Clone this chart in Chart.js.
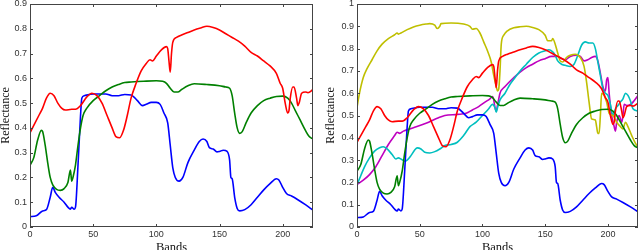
<!DOCTYPE html>
<html>
<head>
<meta charset="utf-8">
<script src="https://cdn.jsdelivr.net/npm/chart.js@4.4.1/dist/chart.umd.min.js"></script>
<style>
  html, body { margin: 0; padding: 0; background: #fff; overflow: hidden; }
  .panel { position: absolute; top: 0; width: 320px; height: 256px; }
</style>
</head>
<body>
<div class="panel" style="left:0"><canvas id="leftChart"></canvas></div>
<div class="panel" style="left:320px"><canvas id="rightChart"></canvas></div>
<script>
// spectra as [band, reflectance] pairs
const blueSpectrum = [[0,0.042],[5,0.045],[10,0.065],[13,0.07],[16,0.12],[18,0.16],[20,0.14],[23,0.12],[27,0.10],[30,0.08],
  [32,0.072],[33,0.08],[35,0.072],[36,0.08],[38,0.25],[40,0.45],[41,0.52],[43,0.53],[50,0.537],[60,0.537],
  [65,0.53],[70,0.53],[75,0.535],[80,0.533],[85,0.51],[89,0.49],[92,0.495],[96,0.503],[100,0.503],[103,0.495],
  [106,0.46],[109,0.42],[111,0.33],[113,0.24],[115,0.2],[118,0.185],[121,0.2],[125,0.26],[130,0.31],[134,0.345],
  [137,0.355],[140,0.345],[142,0.32],[145,0.315],[148,0.303],[150,0.305],[153,0.31],[156,0.305],[158,0.27],[159,0.2],
  [160,0.195],[162,0.12],[164,0.075],[166,0.065],[170,0.07],[175,0.09],[180,0.12],[185,0.15],[190,0.175],[195,0.195],
  [197,0.19],[200,0.16],[203,0.135],[207,0.125],[212,0.11],[218,0.09],[224,0.068]];

const redSpectrum = [[0,0.38],[3,0.41],[7,0.45],[10,0.48],[13,0.52],[16,0.54],[19,0.53],[22,0.5],[25,0.48],[28,0.472],
  [33,0.475],[36,0.475],[40,0.49],[45,0.525],[49,0.54],[53,0.53],[57,0.5],[61,0.45],[65,0.4],[68,0.365],
  [71,0.36],[74,0.39],[77,0.45],[80,0.52],[84,0.58],[88,0.63],[92,0.66],[95,0.675],[97,0.67],[100,0.69],
  [104,0.715],[108,0.728],[109,0.72],[110,0.67],[111,0.625],[112,0.7],[113,0.745],[116,0.765],[120,0.775],[125,0.785],
  [130,0.795],[135,0.803],[140,0.81],[145,0.805],[150,0.795],[155,0.78],[160,0.765],[165,0.75],[170,0.73],[175,0.705],
  [180,0.69],[185,0.67],[190,0.65],[195,0.62],[198,0.58],[200,0.56],[202,0.5],[204,0.46],[205,0.47],[206,0.52],
  [208,0.565],[209,0.565],[211,0.52],[212,0.49],[213,0.5],[215,0.54],[218,0.545],[220,0.542],[224,0.555]];

const greenSpectrum = [[0,0.25],[3,0.28],[6,0.35],[9,0.39],[10,0.385],[12,0.33],[14,0.26],[16,0.2],[18,0.17],[21,0.152],
  [24,0.148],[27,0.155],[30,0.18],[32,0.23],[33,0.185],[34,0.2],[36,0.25],[38,0.33],[40,0.4],[42,0.45],
  [45,0.48],[50,0.51],[55,0.53],[60,0.55],[65,0.565],[70,0.575],[75,0.583],[80,0.585],[90,0.588],[100,0.59],
  [105,0.588],[108,0.58],[111,0.56],[114,0.545],[117,0.545],[120,0.555],[125,0.57],[130,0.578],[140,0.575],[150,0.57],
  [155,0.565],[158,0.56],[160,0.53],[162,0.46],[164,0.4],[166,0.378],[168,0.385],[171,0.42],[175,0.46],[180,0.49],
  [185,0.51],[190,0.52],[195,0.527],[200,0.528],[204,0.52],[207,0.5],[210,0.47],[214,0.43],[218,0.39],[221,0.365],[224,0.355]];

const yellowSpectrum = [[0,0.535],[2,0.6],[5,0.67],[8,0.71],[12,0.75],[16,0.79],[20,0.82],[25,0.845],[30,0.862],[32,0.87],
  [33,0.865],[35,0.87],[40,0.885],[45,0.897],[50,0.905],[55,0.91],[58,0.912],[62,0.905],[64,0.89],[66,0.9],
  [67,0.912],[75,0.915],[85,0.91],[90,0.9],[92,0.887],[95,0.89],[98,0.87],[101,0.83],[104,0.79],[107,0.74],
  [109,0.68],[111,0.63],[112,0.61],[113,0.62],[114,0.7],[115,0.82],[117,0.86],[120,0.88],[125,0.893],[130,0.898],
  [135,0.9],[140,0.895],[145,0.885],[150,0.86],[152,0.835],[155,0.835],[156,0.845],[158,0.82],[160,0.78],[162,0.745],
  [164,0.74],[167,0.76],[170,0.77],[174,0.775],[178,0.76],[181,0.72],[183,0.65],[185,0.56],[187,0.485],[190,0.48],
  [191,0.45],[192,0.42],[193,0.42],[194,0.5],[195,0.6],[197,0.59],[199,0.56],[201,0.51],[204,0.5],[207,0.47],
  [210,0.45],[212,0.44],[214,0.47],[216,0.45],[219,0.41],[222,0.375],[224,0.36]];

const cyanSpectrum = [[0,0.19],[3,0.23],[6,0.27],[10,0.31],[14,0.34],[18,0.355],[21,0.36],[24,0.35],[28,0.325],[31,0.305],
  [33,0.31],[35,0.305],[38,0.295],[40,0.3],[43,0.32],[46,0.345],[48,0.355],[51,0.35],[54,0.335],[58,0.332],
  [62,0.338],[66,0.35],[70,0.365],[75,0.37],[80,0.38],[85,0.41],[90,0.45],[95,0.47],[100,0.5],[105,0.53],
  [108,0.55],[110,0.535],[111,0.515],[112,0.535],[114,0.57],[118,0.6],[122,0.64],[126,0.67],[130,0.7],[135,0.73],
  [140,0.76],[145,0.78],[150,0.79],[153,0.795],[156,0.785],[158,0.77],[160,0.745],[163,0.73],[166,0.725],[170,0.72],
  [173,0.73],[176,0.77],[179,0.815],[182,0.83],[185,0.825],[188,0.825],[190,0.8],[192,0.74],[194,0.68],[196,0.62],
  [198,0.6],[200,0.59],[202,0.55],[204,0.5],[206,0.53],[208,0.545],[210,0.56],[212,0.575],[214,0.6],[216,0.59],
  [218,0.565],[220,0.53],[224,0.52]];

const magentaSpectrum = [[0,0.19],[5,0.21],[10,0.235],[15,0.27],[20,0.32],[25,0.37],[30,0.41],[32,0.425],[34,0.42],[37,0.43],
  [45,0.445],[55,0.465],[65,0.49],[70,0.5],[80,0.505],[87,0.51],[92,0.525],[97,0.54],[102,0.56],[106,0.575],
  [108,0.585],[109,0.57],[110,0.535],[111,0.52],[112,0.545],[114,0.6],[118,0.63],[125,0.67],[130,0.695],[135,0.715],
  [140,0.73],[145,0.745],[150,0.755],[155,0.765],[160,0.765],[163,0.755],[166,0.75],[170,0.765],[175,0.77],[178,0.765],
  [181,0.745],[184,0.75],[187,0.76],[190,0.765],[192,0.745],[194,0.69],[196,0.63],[198,0.61],[199,0.66],[200,0.67],
  [201,0.6],[203,0.5],[205,0.45],[206,0.43],[207,0.47],[209,0.5],[211,0.47],[212,0.5],[213,0.55],[215,0.545],
  [218,0.55],[220,0.56],[224,0.59]];

const bandTicks = [0, 50, 100, 150, 200];

function line(spectrum, color) {
    return {
        data: spectrum.map(p => ({ x: p[0], y: p[1] })),
        borderColor: color,
        borderWidth: 1.6,
        pointRadius: 0,
        fill: false,
        cubicInterpolationMode: 'monotone'
    };
}

// matlab-like box with inward ticks on all four sides
const frameTicks = {
    id: 'frameTicks',
    afterDraw(chart) {
        const { ctx, chartArea: a, scales: { x, y } } = chart;
        ctx.save();
        ctx.strokeStyle = '#444';
        ctx.lineWidth = 1;
        ctx.beginPath();
        x.ticks.forEach(t => {
            const px = Math.round(x.getPixelForValue(t.value)) + 0.5;
            ctx.moveTo(px, a.bottom); ctx.lineTo(px, a.bottom - 3);
            ctx.moveTo(px, a.top); ctx.lineTo(px, a.top + 3);
        });
        y.ticks.forEach(t => {
            const py = Math.round(y.getPixelForValue(t.value)) + 0.5;
            ctx.moveTo(a.left, py); ctx.lineTo(a.left + 3, py);
            ctx.moveTo(a.right, py); ctx.lineTo(a.right - 3, py);
        });
        ctx.stroke();
        ctx.strokeRect(Math.round(a.left) + 0.5, Math.round(a.top) + 0.5,
            Math.round(a.width) - 1, Math.round(a.height) - 1);
        ctx.restore();
    }
};

function makeChart(id, datasets, yMax, yWidth, rightPad, titlePad) {
    return new Chart(document.getElementById(id), {
        type: 'line',
        data: { datasets: datasets },
        plugins: [frameTicks],
        options: {
            responsive: true,
            maintainAspectRatio: false,
            animation: false,
            layout: { padding: { top: 4, right: rightPad, left: 0, bottom: 0 } },
            plugins: { legend: { display: false }, tooltip: { enabled: false } },
            scales: {
                x: {
                    type: 'linear',
                    min: 0,
                    max: 224,
                    afterBuildTicks: s => { s.ticks = bandTicks.map(v => ({ value: v })); },
                    ticks: { color: '#333', padding: 2, font: { family: 'Liberation Sans, Arial, sans-serif', size: 9 } },
                    grid: { display: false, drawTicks: false },
                    border: { display: false },
                    title: {
                        display: true, text: 'Bands', color: '#111',
                        padding: { top: 0, bottom: 1 },
                        font: { family: 'Liberation Serif, Times New Roman, serif', size: 12.5 }
                    },
                    afterFit: s => { s.height = 29; s.paddingLeft = 0; s.paddingRight = 0; }
                },
                y: {
                    min: 0,
                    max: yMax,
                    ticks: {
                        stepSize: 0.1, color: '#333', padding: 3,
                        font: { family: 'Liberation Sans, Arial, sans-serif', size: 9 },
                        callback: v => String(+v.toFixed(1))
                    },
                    grid: { display: false, drawTicks: false },
                    border: { display: false },
                    title: {
                        display: true, text: 'Reflectance', color: '#111',
                        padding: { top: titlePad, bottom: 0 },
                        font: { family: 'Liberation Serif, Times New Roman, serif', size: 12, lineHeight: 1 }
                    },
                    afterFit: s => { s.width = yWidth; s.paddingTop = 0; s.paddingBottom = 0; }
                }
            }
        }
    });
}

makeChart('leftChart', [
    line(redSpectrum, '#ff0000'),
    line(greenSpectrum, '#008000'),
    line(blueSpectrum, '#0000ff')
], 0.9, 30, 7, 0);

makeChart('rightChart', [
    line(redSpectrum, '#ff0000'),
    line(greenSpectrum, '#008000'),
    line(blueSpectrum, '#0000ff'),
    line(yellowSpectrum, '#bfbf00'),
    line(cyanSpectrum, '#00bfbf'),
    line(magentaSpectrum, '#bf00bf')
], 1, 37, 2, 5);
</script>
</body>
</html>
